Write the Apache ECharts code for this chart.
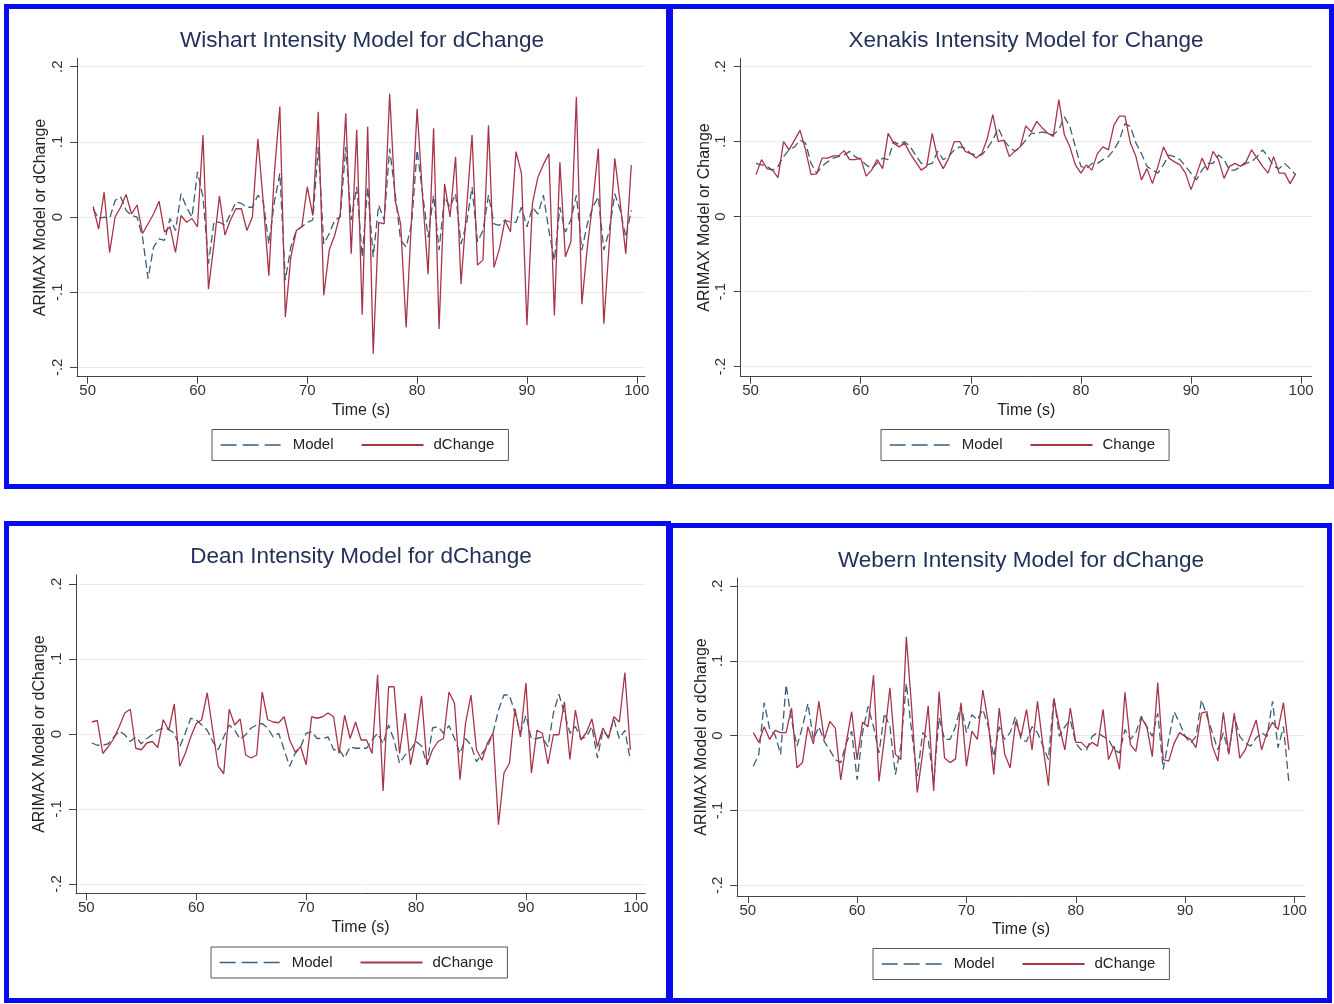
<!DOCTYPE html>
<html><head><meta charset="utf-8">
<script src="https://cdn.jsdelivr.net/npm/echarts@6/dist/echarts.min.js"></script>
<style>html,body{margin:0;padding:0;background:#fff}#c{width:1334px;height:1004px}</style>
</head><body><div id="c"></div>
<script>
const times = [50.5,51,51.5,52,52.5,53,53.5,54,54.5,55,55.5,56,56.5,57,57.5,58,58.5,59,59.5,60,
  60.5,61,61.5,62,62.5,63,63.5,64,64.5,65,65.5,66,66.5,67,67.5,68,68.5,69,69.5,70,
  70.5,71,71.5,72,72.5,73,73.5,74,74.5,75,75.5,76,76.5,77,77.5,78,78.5,79,79.5,80,
  80.5,81,81.5,82,82.5,83,83.5,84,84.5,85,85.5,86,86.5,87,87.5,88,88.5,89,89.5,90,
  90.5,91,91.5,92,92.5,93,93.5,94,94.5,95,95.5,96,96.5,97,97.5,98,98.5,99,99.5];
const xTicks = [50,60,70,80,90,100];
const yTicks = [-0.2,-0.1,0,0.1,0.2];
const titles = ['Wishart Intensity Model for dChange','Xenakis Intensity Model for Change','Dean Intensity Model for dChange','Webern Intensity Model for dChange'];
const yNames = ['ARIMAX Model or dChange','ARIMAX Model or Change','ARIMAX Model or dChange','ARIMAX Model or dChange'];
const xName = 'Time (s)';
const modelNames = ['Model','Model','Model','Model'];
const changeNames = ['dChange','Change','dChange','dChange'];

const wishartModel = [0.011,-0.002,0.0,-0.002,0.022,0.027,0.009,0.002,0.0,-0.027,
  -0.082,-0.04,-0.029,-0.031,-0.002,-0.018,0.031,0.013,0.0,0.06,
  0.027,-0.062,-0.007,-0.007,-0.011,0.004,0.02,0.018,0.013,0.013,
  0.029,0.02,-0.036,0.02,0.058,-0.084,-0.04,-0.018,-0.013,-0.007,
  -0.004,0.093,-0.036,-0.022,-0.004,0.0,0.093,-0.004,0.04,-0.053,
  0.04,-0.053,0.016,-0.004,0.091,0.031,-0.031,-0.04,-0.009,0.089,
  0.031,-0.027,0.029,-0.044,0.027,0.013,0.031,-0.036,-0.009,0.04,
  -0.033,-0.018,0.029,-0.009,-0.011,-0.004,-0.007,-0.007,0.013,-0.013,
  0.013,0.004,0.029,-0.018,-0.058,0.013,-0.02,-0.004,0.029,-0.044,
  -0.009,0.013,0.027,-0.044,-0.018,0.031,0.009,-0.027,0.009];
const wishartChange = [0.014,-0.016,0.033,-0.047,0.0,0.013,0.03,0.004,0.016,-0.022,
  -0.009,0.004,0.021,-0.02,-0.013,-0.047,0.002,-0.007,-0.002,-0.013,
  0.109,-0.096,-0.036,0.028,-0.024,-0.004,0.011,0.011,-0.018,0.0,
  0.104,0.018,-0.078,0.058,0.147,-0.133,-0.053,-0.018,-0.013,0.04,
  0.002,0.14,-0.104,-0.044,-0.024,0.004,0.138,-0.049,0.116,-0.13,
  0.12,-0.182,-0.007,-0.009,0.164,0.022,-0.009,-0.147,0.0,0.144,
  0.027,-0.076,0.118,-0.149,0.044,0.0,0.08,-0.089,0.01,0.109,
  -0.064,-0.057,0.122,-0.067,-0.042,-0.004,-0.02,0.087,0.058,-0.144,
  0.018,0.053,0.07,0.084,-0.131,0.073,-0.053,-0.033,0.16,-0.116,
  -0.04,0.02,0.091,-0.142,-0.035,0.078,0.018,-0.049,0.069];

const xenakisModel = [0.071,0.069,0.067,0.062,0.067,0.08,0.089,0.093,0.102,0.098,
  0.071,0.058,0.067,0.073,0.078,0.08,0.082,0.087,0.08,0.076,
  0.069,0.064,0.071,0.078,0.076,0.1,0.096,0.1,0.093,0.082,
  0.071,0.069,0.071,0.087,0.076,0.08,0.089,0.093,0.091,0.084,
  0.082,0.082,0.091,0.102,0.118,0.102,0.093,0.087,0.093,0.102,
  0.111,0.111,0.113,0.111,0.109,0.116,0.133,0.12,0.093,0.067,
  0.064,0.071,0.071,0.076,0.08,0.089,0.102,0.124,0.12,0.098,
  0.084,0.067,0.062,0.058,0.069,0.082,0.08,0.076,0.067,0.058,
  0.049,0.062,0.071,0.071,0.082,0.076,0.062,0.062,0.067,0.071,
  0.073,0.08,0.089,0.08,0.067,0.064,0.071,0.064,0.056];
const xenakisChange = [0.056,0.076,0.064,0.062,0.052,0.1,0.089,0.102,0.115,0.089,
  0.056,0.057,0.078,0.078,0.081,0.081,0.088,0.076,0.076,0.078,
  0.054,0.062,0.076,0.064,0.111,0.098,0.093,0.098,0.084,0.073,
  0.062,0.067,0.111,0.078,0.064,0.078,0.1,0.1,0.087,0.084,
  0.078,0.084,0.104,0.136,0.1,0.102,0.08,0.087,0.093,0.121,
  0.113,0.127,0.118,0.111,0.107,0.156,0.109,0.093,0.069,0.058,
  0.069,0.062,0.084,0.093,0.089,0.122,0.134,0.134,0.098,0.08,
  0.049,0.064,0.044,0.067,0.093,0.078,0.073,0.069,0.058,0.036,
  0.056,0.078,0.062,0.087,0.076,0.051,0.067,0.071,0.067,0.073,
  0.089,0.078,0.067,0.058,0.08,0.058,0.058,0.044,0.057];

const deanModel = [-0.012,-0.015,-0.015,-0.013,-0.004,0.004,-0.001,-0.01,-0.004,-0.013,
  -0.006,-0.001,0.005,0.008,0.006,0.001,-0.017,0.001,0.021,0.019,
  0.012,0.005,-0.01,-0.021,-0.004,0.012,0.005,-0.007,-0.001,0.008,
  0.012,0.014,0.008,-0.004,0.001,-0.021,-0.043,-0.026,-0.017,0.001,
  0.003,-0.006,-0.006,-0.004,-0.021,-0.021,-0.032,-0.017,-0.019,-0.019,
  -0.019,-0.008,0.001,-0.013,0.012,-0.008,-0.039,-0.028,-0.021,-0.01,
  -0.016,-0.041,0.008,0.01,0.001,0.011,-0.006,-0.026,-0.006,-0.015,
  -0.037,-0.026,-0.017,0.001,0.032,0.052,0.052,0.028,0.001,0.025,
  -0.007,-0.006,-0.004,-0.017,0.028,0.053,0.028,0.001,0.01,-0.006,
  -0.004,0.01,-0.032,0.005,-0.004,0.019,-0.006,0.005,-0.035];
const deanChange = [0.016,0.018,-0.026,-0.017,-0.006,0.01,0.028,0.033,-0.019,-0.021,
  -0.012,-0.01,-0.018,0.019,0.005,0.04,-0.043,-0.026,-0.004,0.014,
  0.019,0.055,0.005,-0.043,-0.053,0.033,0.012,0.02,-0.028,-0.032,
  -0.028,0.056,0.019,0.016,0.015,0.023,-0.008,-0.024,-0.017,-0.041,
  0.023,0.021,0.023,0.028,0.023,-0.026,0.025,-0.006,0.016,-0.008,
  -0.008,-0.026,0.079,-0.076,0.063,0.063,-0.026,0.028,-0.041,-0.004,
  0.051,-0.041,-0.021,-0.01,-0.006,0.056,0.041,-0.061,0.014,0.052,
  -0.021,-0.035,-0.012,0.001,-0.121,-0.052,-0.039,0.034,-0.004,0.068,
  -0.052,0.005,0.001,-0.04,-0.001,-0.001,0.043,-0.034,0.032,-0.008,
  0.002,0.02,-0.017,0.008,-0.006,0.023,0.016,0.082,-0.021];

const webernModel = [-0.041,-0.025,0.044,0.009,0.001,-0.025,0.068,0.021,-0.014,0.012,
  0.043,-0.005,0.012,-0.008,-0.019,-0.032,-0.036,-0.01,0.006,-0.059,
  0.004,0.039,0.012,-0.023,0.03,0.012,-0.052,-0.014,0.07,0.004,
  -0.054,0.004,-0.005,-0.063,0.024,-0.005,-0.005,0.012,0.041,0.004,
  0.028,0.021,0.035,0.012,-0.028,0.012,-0.005,0.004,0.026,-0.005,
  -0.008,0.012,0.004,-0.014,-0.032,0.052,-0.001,0.012,0.021,-0.01,
  -0.019,-0.019,-0.001,0.004,-0.001,-0.005,-0.019,-0.023,0.008,-0.005,
  0.004,0.026,0.012,-0.001,0.03,-0.045,-0.005,0.032,0.017,-0.001,
  -0.01,-0.001,0.048,0.026,0.004,-0.019,0.004,-0.023,0.026,-0.001,
  -0.01,-0.014,-0.003,0.004,-0.001,0.046,-0.016,0.012,-0.063];
const webernChange = [0.004,-0.009,0.012,-0.005,0.007,0.004,0.004,0.037,-0.043,-0.036,
  0.012,-0.011,0.046,-0.005,0.019,0.01,-0.059,-0.01,0.032,-0.032,
  0.018,0.012,0.081,-0.061,-0.003,0.064,-0.025,-0.032,0.132,0.035,
  -0.076,-0.023,0.04,-0.074,0.059,-0.03,-0.036,-0.031,0.044,-0.041,
  0.006,-0.005,0.061,0.017,-0.052,0.037,-0.025,-0.043,0.019,-0.001,
  0.035,-0.019,0.046,-0.014,-0.067,0.048,0.012,-0.019,0.037,-0.009,
  -0.009,-0.016,-0.009,-0.014,0.035,-0.032,-0.014,-0.045,0.058,-0.012,
  -0.021,0.024,0.012,-0.028,0.071,-0.032,-0.034,-0.01,0.004,-0.001,
  -0.005,-0.016,0.03,0.032,-0.014,-0.034,0.031,-0.025,0.03,-0.03,
  -0.019,0.001,0.021,-0.019,0.004,0.018,0.008,0.044,-0.019];

const modelSeries = [wishartModel, xenakisModel, deanModel, webernModel];
const changeSeries = [wishartChange, xenakisChange, deanChange, webernChange];

// layout (pixels) and axis extents per panel
const layout = [
  {cx:362, ty:29.5, grid:{left:77, top:58.3, width:568, height:318.4}, x:[49.03,100.75], y:[-0.2125,0.2112], lg:[212,429.5], border:[6.5,6.5,662,480]},
  {cx:1026, ty:29.5, grid:{left:740.7, top:58.3, width:571, height:318.4}, x:[49.11,100.96], y:[-0.2133,0.211], lg:[881,429.5], border:[670.5,6.5,661,480]},
  {cx:361, ty:545.5, grid:{left:76, top:575, width:569.3, height:318.3}, x:[49.06,100.86], y:[-0.2124,0.212], lg:[211,947], border:[6.5,523.5,662,477]},
  {cx:1021, ty:549, grid:{left:737.2, top:578, width:567.8, height:318}, x:[49.03,100.97], y:[-0.2143,0.2107], lg:[873,948.5], border:[670.5,525.5,659,475]}
];

const FONT = '"Liberation Sans", Arial, Helvetica, sans-serif';
const MODEL_COLOR = '#3d5d7e';
const CHANGE_COLOR = '#a8344a';
const AX = '#444';

function fmtY(v){
  const r = Math.round(v*10)/10;
  if (r === 0) return '0';
  return String(r).replace('0.', '.');
}

const option = {
  animation: false,
  backgroundColor: '#fff',
  textStyle: {fontFamily: FONT},
  title: [], legend: [], grid: [], xAxis: [], yAxis: [], series: [],
  graphic: []
};

layout.forEach((L, i) => {
  option.title.push({
    text: titles[i], left: L.cx, top: L.ty, textAlign: 'center', padding: 0,
    textStyle: {fontSize: 22.5, fontWeight: 'normal', color: '#22315a', fontFamily: FONT}
  });
  option.grid.push(Object.assign({containLabel: false}, L.grid));
  option.xAxis.push({
    type: 'value', gridIndex: i, min: L.x[0], max: L.x[1],
    name: xName, nameLocation: 'middle', nameGap: 26,
    nameTextStyle: {fontSize: 16, color: '#222', fontFamily: FONT},
    axisLine: {show: true, onZero: false, lineStyle: {color: AX, width: 1}},
    axisTick: {show: true, length: 7, customValues: xTicks, lineStyle: {color: AX}},
    axisLabel: {customValues: xTicks, margin: 7, fontSize: 15, color: '#333', fontFamily: FONT},
    splitLine: {show: false}
  });
  option.yAxis.push({
    type: 'value', gridIndex: i, min: L.y[0], max: L.y[1],
    name: yNames[i], nameLocation: 'middle', nameGap: 28,
    nameTextStyle: {fontSize: 16, color: '#222', fontFamily: FONT},
    axisLine: {show: true, onZero: false, lineStyle: {color: AX, width: 1}},
    axisTick: {show: true, length: 7, customValues: yTicks, lineStyle: {color: AX}},
    axisLabel: {customValues: yTicks, rotate: 90, margin: 12, fontSize: 15, color: '#333', fontFamily: FONT, formatter: fmtY},
    splitLine: {show: true, lineStyle: {color: '#ebebeb', width: 1}}
  });
  option.series.push({
    name: modelNames[i], type: 'line', xAxisIndex: i, yAxisIndex: i,
    symbol: 'none', showSymbol: false,
    lineStyle: {color: MODEL_COLOR, width: 1.3, type: [8, 4]},
    itemStyle: {color: MODEL_COLOR},
    data: times.map((t, k) => [t, modelSeries[i][k]])
  });
  option.series.push({
    name: changeNames[i], type: 'line', xAxisIndex: i, yAxisIndex: i,
    symbol: 'none', showSymbol: false,
    lineStyle: {color: CHANGE_COLOR, width: 1.3, type: 'solid'},
    itemStyle: {color: CHANGE_COLOR},
    data: times.map((t, k) => [t, changeSeries[i][k]])
  });
  option.legend.push({
    left: L.lg[0], top: L.lg[1], orient: 'horizontal',
    backgroundColor: '#fff', borderColor: '#555', borderWidth: 1, borderRadius: 0,
    padding: [8, 14, 8, 8], itemWidth: 62, itemHeight: 14, itemGap: 27,
    selectedMode: false,
    itemStyle: {opacity: 0},
    textStyle: {fontSize: 15, color: '#222', fontFamily: FONT, padding: [0, 0, 0, 5]},
    data: [
      {name: modelNames[i], itemStyle: {opacity: 0}, lineStyle: {type: [16, 6], color: MODEL_COLOR, width: 1.3}},
      {name: changeNames[i], itemStyle: {opacity: 0}}
    ]
  });
  option.graphic.push({
    type: 'rect', silent: true, z: 100,
    shape: {x: L.border[0], y: L.border[1], width: L.border[2], height: L.border[3]},
    style: {fill: 'none', stroke: '#0a0af0', lineWidth: 5}
  });
});

const chart = echarts.init(document.getElementById('c'), null, {renderer: 'canvas'});
chart.setOption(option);
</script></body></html>
